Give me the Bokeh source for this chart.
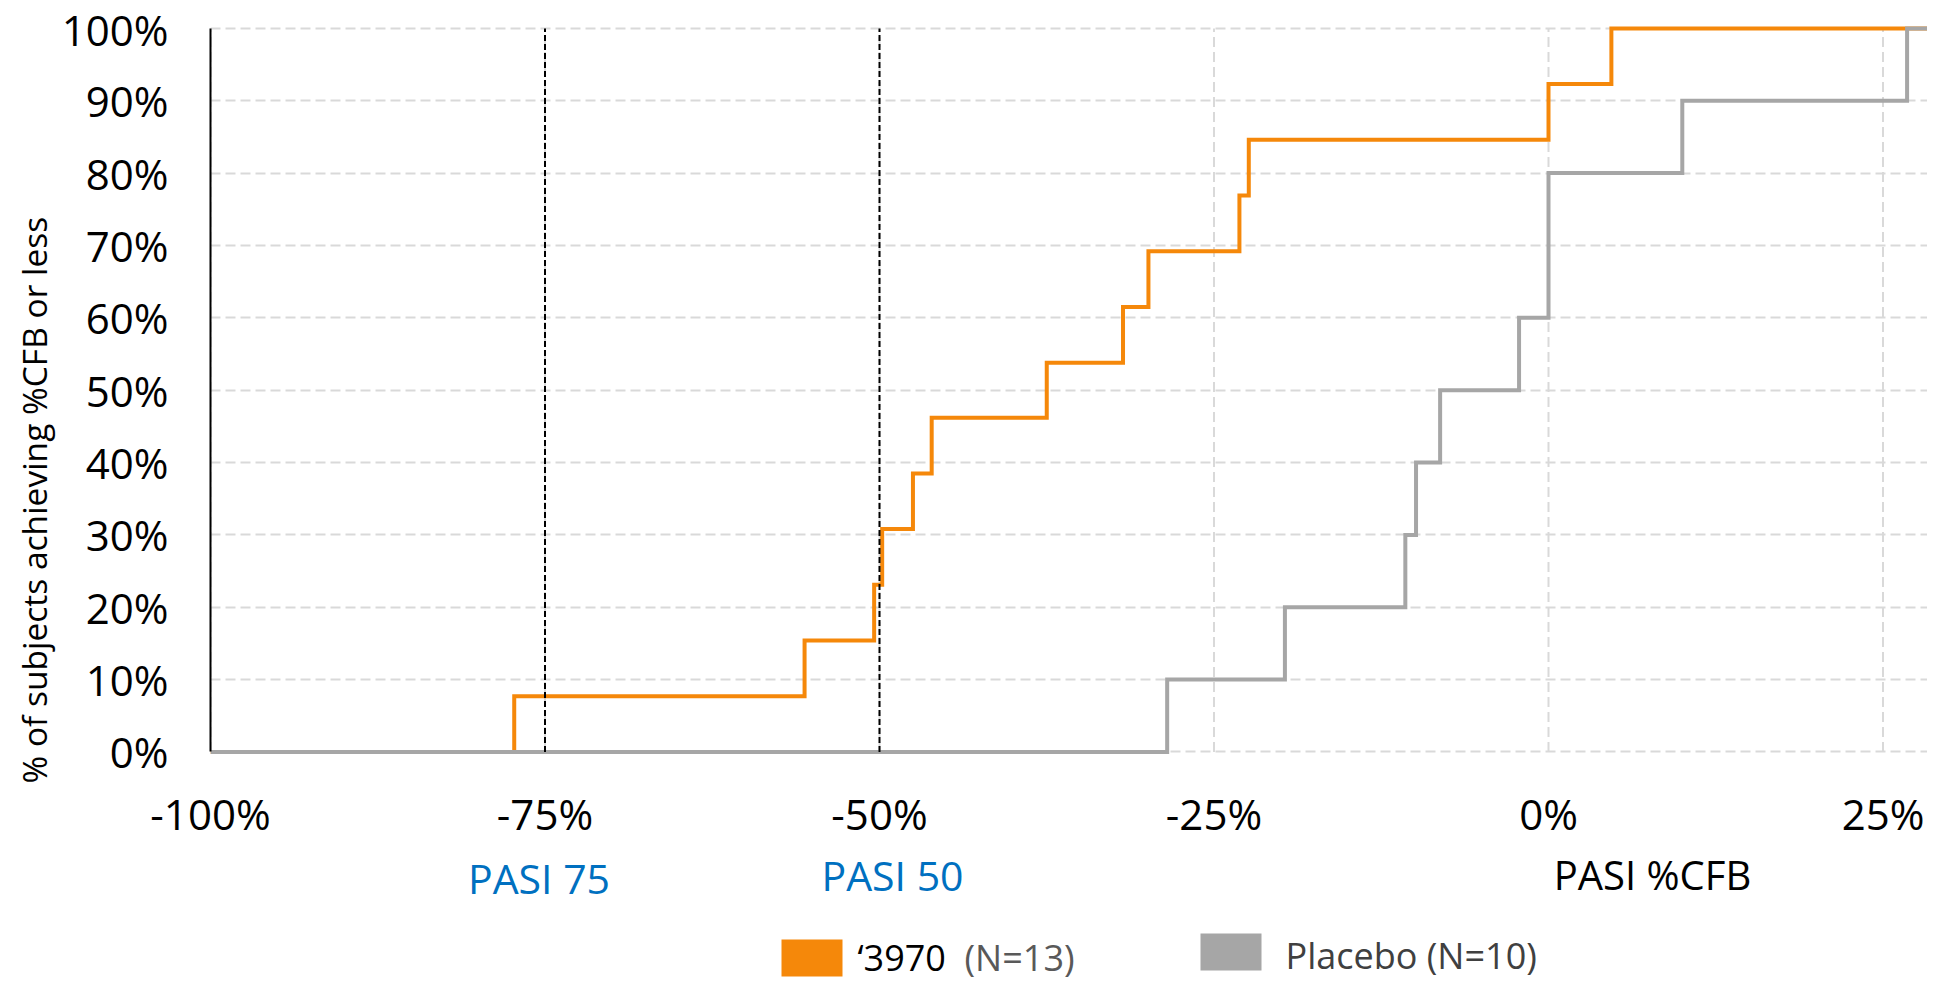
import math
from bokeh.plotting import figure
from bokeh.layouts import row, column
from bokeh.models import Range1d, FixedTicker, PrintfTickFormatter
from bokeh.core.properties import value
from bokeh.embed import file_html
from bokeh.resources import INLINE

# ---- data ----
x_ticks = [-100, -75, -50, -25, 0, 25]
y_ticks = [0, 10, 20, 30, 40, 50, 60, 70, 80, 90, 100]

drug_name = "\u20183970"
drug_n = "(N=13)"
drug_x = [-77.3, -55.6, -50.4, -49.8, -47.5, -46.1, -37.5, -31.8, -29.9, -23.1, -22.4, 0.0, 4.7]
drug_y = [7.7, 15.4, 23.1, 30.8, 38.5, 46.2, 53.8, 61.5, 69.2, 76.9, 84.6, 92.3, 100.0]

placebo_name = "Placebo (N=10)"
placebo_x = [-28.5, -19.7, -10.7, -9.9, -8.1, -2.2, 0.0, 10.0, 26.8]
placebo_y = [10, 20, 30, 40, 50, 60, 80, 90, 100]

pasi_x = [-75, -50]
pasi_labels = ["PASI 75", "PASI 50"]
x_title = "PASI %CFB"
y_title = "% of subjects achieving %CFB or less"

# ---- styles / layout ----
ORANGE = "#F5880A"
GRAY = "#A6A6A6"
BLUE = "#0070C0"
GRID = "#D9D9D9"
FONT = "Open Sans"

TOTAL_W = 1927
TOTAL_H = 982
TITLE_W = 58
MAIN_H = 844
BOTTOM_H = TOTAL_H - MAIN_H
FRAME_LEFT = 210          # canvas x of the plot frame's left edge
FRAME_TOP = 25
FRAME_BOTTOM = 786        # frame reaches a bit below the 0% line (room for the y title)
FRAME_W = TOTAL_W - FRAME_LEFT
PX_PER_PCT = 13.38
x_min = -100
x_max = x_min + FRAME_W / PX_PER_PCT
y_lo, y_hi = -4.5, 100.4

# ---- main plot ----
p = figure(width=TOTAL_W - TITLE_W, height=MAIN_H,
           x_range=Range1d(x_min, x_max), y_range=Range1d(y_lo, y_hi),
           output_backend="svg", toolbar_location=None,
           min_border_left=FRAME_LEFT - TITLE_W, min_border_right=0,
           min_border_top=FRAME_TOP, min_border_bottom=MAIN_H - FRAME_BOTTOM)
p.outline_line_color = None
p.background_fill_color = "white"
p.border_fill_color = "white"

p.xaxis.ticker = FixedTicker(ticks=x_ticks)
p.xaxis.formatter = PrintfTickFormatter(format="%d%%")
p.xaxis.axis_line_color = None
p.xaxis.major_tick_line_color = None
p.xaxis.minor_tick_line_color = None
p.xaxis.major_label_text_font = FONT
p.xaxis.major_label_text_font_size = "42px"
p.xaxis.major_label_text_color = "black"
p.xaxis.major_label_standoff = -6

p.yaxis.ticker = FixedTicker(ticks=y_ticks)
p.yaxis.formatter = PrintfTickFormatter(format="%d%%")
p.yaxis.bounds = (y_ticks[0], y_ticks[-1])
p.yaxis.axis_line_color = "black"
p.yaxis.axis_line_width = 2
p.yaxis.major_tick_line_color = None
p.yaxis.minor_tick_line_color = None
p.yaxis.major_label_text_font = FONT
p.yaxis.major_label_text_font_size = "42px"
p.yaxis.major_label_text_color = "black"
p.yaxis.major_label_standoff = 36

p.xgrid.visible = False
p.ygrid.ticker = FixedTicker(ticks=y_ticks)
p.ygrid.grid_line_color = GRID
p.ygrid.grid_line_dash = "10 5"
p.ygrid.grid_line_width = 2
# vertical grid lines only between 0% and 100%
p.segment(x0=x_ticks, y0=[y_ticks[0]] * len(x_ticks), x1=x_ticks, y1=[y_ticks[-1]] * len(x_ticks),
          line_color=GRID, line_width=2, line_dash="10 5")

dxs = [x_min] + drug_x + [x_max]
dys = [0] + drug_y + [drug_y[-1]]
p.step(dxs, dys, mode="after", line_color=ORANGE, line_width=4, line_join="miter")

pxs = [x_min] + placebo_x + [x_max]
pys = [0] + placebo_y + [placebo_y[-1]]
p.step(pxs, pys, mode="after", line_color=GRAY, line_width=4, line_join="miter")

p.segment(x0=pasi_x, y0=[y_ticks[0]] * len(pasi_x), x1=pasi_x, y1=[y_ticks[-1]] * len(pasi_x),
          line_color="black", line_width=2, line_dash="6 3")

# ---- y title panel (its frame is aligned with the main frame) ----
t = figure(width=TITLE_W, height=MAIN_H, x_range=Range1d(0, TITLE_W),
           y_range=Range1d(MAIN_H - FRAME_BOTTOM, MAIN_H - FRAME_TOP),
           output_backend="svg", toolbar_location=None,
           x_axis_location=None, y_axis_location=None,
           min_border_left=0, min_border_right=0,
           min_border_top=FRAME_TOP, min_border_bottom=MAIN_H - FRAME_BOTTOM)
t.outline_line_color = None
t.grid.visible = False
t.background_fill_color = "white"
t.border_fill_color = "white"
# text starts at the bottom and runs upwards
t.text(x=[33], y=[MAIN_H - 785], text=[y_title], angle=math.pi / 2,
       text_align="left", text_baseline="middle",
       text_font=value(FONT), text_font_size=value("33.5px"), text_color="black")

# ---- bottom panel: PASI labels, x title, legend ----
b = figure(width=TOTAL_W, height=BOTTOM_H, x_range=Range1d(0, TOTAL_W), y_range=Range1d(0, BOTTOM_H),
           output_backend="svg", toolbar_location=None,
           x_axis_location=None, y_axis_location=None,
           min_border=0, min_border_left=0, min_border_right=0, min_border_top=0, min_border_bottom=0)
b.outline_line_color = None
b.grid.visible = False

def to_px(v):
    return FRAME_LEFT + (v - x_min) * FRAME_W / (x_max - x_min)

def cy(canvas_y):
    return TOTAL_H - canvas_y

pasi_px = [to_px(v) + off for v, off in zip(pasi_x, [-6, 13])]
b.text(x=pasi_px, y=[cy(877), cy(874)], text=pasi_labels, text_align="center", text_baseline="middle",
       text_font=value(FONT), text_font_size=value("41px"), text_color=BLUE)
b.text(x=[1652], y=[cy(874)], text=[x_title], text_align="center", text_baseline="middle",
       text_font=value(FONT), text_font_size=value("40px"), text_color="black")

b.quad(left=[781, 1200], right=[842, 1261], bottom=[cy(976), cy(970)], top=[cy(939), cy(933)],
       fill_color=[ORANGE, GRAY], line_color=None)
b.text(x=[857], y=[cy(957)], text=[drug_name], text_align="left", text_baseline="middle",
       text_font=value(FONT), text_font_size=value("36px"), text_color="black")
b.text(x=[964], y=[cy(957)], text=[drug_n], text_align="left", text_baseline="middle",
       text_font=value(FONT), text_font_size=value("36px"), text_color="#595959")
b.text(x=[1285], y=[cy(955)], text=[placebo_name], text_align="left", text_baseline="middle",
       text_font=value(FONT), text_font_size=value("36px"), text_color="#404040")

layout = column(row(t, p, spacing=0), b, spacing=0)
open("out.html", "w").write(file_html(layout, INLINE))
